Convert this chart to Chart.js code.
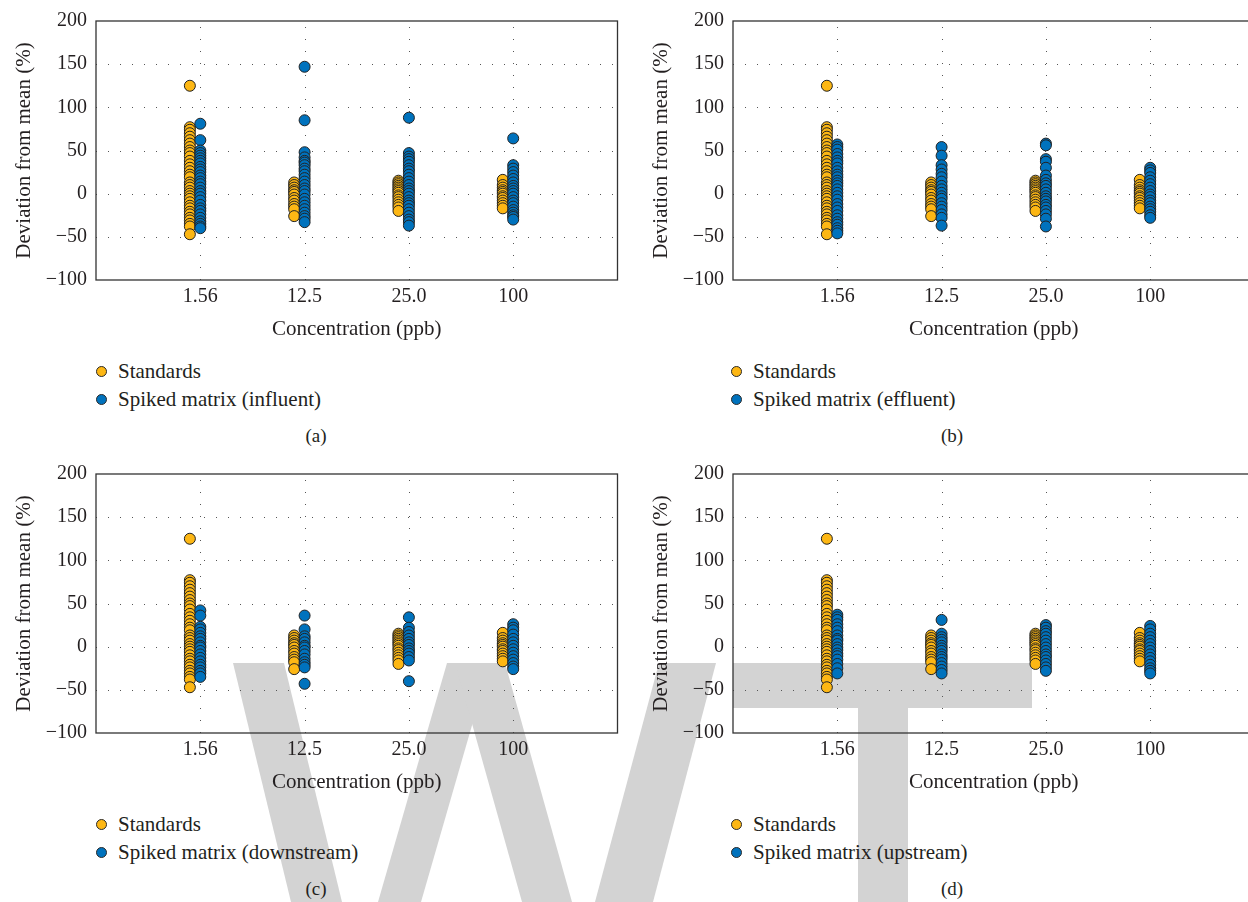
<!DOCTYPE html>
<html>
<head>
<meta charset="utf-8">
<script src="https://cdn.jsdelivr.net/npm/chart.js@4.4.1/dist/chart.umd.min.js"></script>
<style>
  html, body { margin: 0; padding: 0; background: #fff; }
  body { width: 1248px; height: 902px; overflow: hidden; position: relative; font-family: "Liberation Serif", serif; color: #231f20; }
  .wm { position: absolute; left: 0; top: 0; z-index: 0; }
  .panel { position: absolute; width: 624px; height: 350px; z-index: 1; }
  .legend { position: absolute; z-index: 1; font-size: 21px; line-height: 28px; }
  .legend div { white-space: nowrap; }
  .dot { display: inline-block; width: 9px; height: 9px; border: 1px solid #2a2a2a; border-radius: 50%; margin-right: 11px; vertical-align: middle; position: relative; top: -2px; }
  .cap { position: absolute; z-index: 1; font-size: 19px; transform: translate(-50%, -50%); }
</style>
</head>
<body>
<svg class="wm" width="1248" height="902">
  <g fill="#d3d3d3">
    <polygon points="233,663 284,663 342,902 291,902"/>
    <polygon points="447,663 490,663 421,902 378,902"/>
    <polygon points="455,663 505,663 572,902 522,902"/>
    <polygon points="659,663 716,663 653,902 595,902"/>
    <rect x="733" y="663" width="299" height="45"/>
    <rect x="858" y="708" width="50" height="194"/>
  </g>
</svg>

<div class="panel" style="left:0;top:0"><canvas id="chart-a" width="624" height="350"></canvas></div>
<div class="panel" style="left:637px;top:0"><canvas id="chart-b" width="624" height="350"></canvas></div>
<div class="panel" style="left:0;top:453px"><canvas id="chart-c" width="624" height="350"></canvas></div>
<div class="panel" style="left:637px;top:453px"><canvas id="chart-d" width="624" height="350"></canvas></div>

<div class="legend" style="left:96px;top:357px">
  <div><span class="dot" style="background:#FDB714"></span>Standards</div>
  <div><span class="dot" style="background:#0072BD"></span>Spiked matrix (influent)</div>
</div>
<div class="legend" style="left:731px;top:357px">
  <div><span class="dot" style="background:#FDB714"></span>Standards</div>
  <div><span class="dot" style="background:#0072BD"></span>Spiked matrix (effluent)</div>
</div>
<div class="legend" style="left:96px;top:810px">
  <div><span class="dot" style="background:#FDB714"></span>Standards</div>
  <div><span class="dot" style="background:#0072BD"></span>Spiked matrix (downstream)</div>
</div>
<div class="legend" style="left:731px;top:810px">
  <div><span class="dot" style="background:#FDB714"></span>Standards</div>
  <div><span class="dot" style="background:#0072BD"></span>Spiked matrix (upstream)</div>
</div>

<div class="cap" style="left:316px;top:436px">(a)</div>
<div class="cap" style="left:952px;top:436px">(b)</div>
<div class="cap" style="left:316px;top:889px">(c)</div>
<div class="cap" style="left:952px;top:889px">(d)</div>

<script>
const categories = ['1.56', '12.5', '25.0', '100'];
const yTicks = [-100, -50, 0, 50, 100, 150, 200];

// standards: same runs in all four panels
const std156 = [125, 77, 74, 70, 66, 62, 58, 54, 50, 47, 43, 38, 34, 30, 26, 22, 19, 13, 10, 7, 3, 0, -3, -6, -10, -14, -17, -21, -24, -28, -31, -35, -38, -47];
const std125 = [13, 10, 7, 4, 2, -1, -5, -8, -12, -15, -18, -26];
const std250 = [15, 13, 11, 9, 7, 5, 3, 1, -2, -4, -7, -10, -13, -16, -20];
const std100 = [16, 10, 7, 4, 2, 0, -3, -5, -8, -11, -14, -17];

// spiked matrix (influent)
const inf156 = [81, 62, 50, 47, 44, 41, 38, 35, 31, 28, 25, 21, 18, 14, 11, 7, 3, 0, -4, -8, -13, -17, -20, -24, -28, -32, -35, -38, -40];
const inf125 = [147, 85, 48, 42, 38, 36, 33, 29, 26, 22, 18, 14, 10, 6, 3, -1, -6, -10, -14, -18, -22, -26, -29, -33];
const inf250 = [88, 47, 43, 40, 37, 33, 29, 26, 22, 18, 14, 10, 6, 3, 0, -4, -8, -11, -14, -18, -22, -26, -30, -33, -37];
const inf100 = [64, 33, 29, 25, 21, 17, 13, 9, 6, 3, 0, -4, -8, -11, -15, -19, -22, -25, -27, -30];

// spiked matrix (effluent)
const eff156 = [57, 54, 51, 46, 42, 38, 35, 30, 26, 22, 19, 15, 12, 9, 5, 1, -3, -7, -12, -16, -20, -25, -29, -33, -36, -40, -43, -46];
const eff125 = [54, 44, 33, 28, 23, 19, 14, 9, 5, 1, -3, -6, -11, -15, -19, -24, -28, -37];
const eff250 = [58, 56, 40, 37, 30, 21, 16, 12, 9, 5, 1, -3, -6, -9, -13, -16, -20, -24, -29, -38];
const eff100 = [30, 27, 24, 19, 15, 11, 7, 3, -1, -4, -8, -11, -15, -18, -21, -25, -28];

// spiked matrix (downstream)
const dn156 = [42, 36, 23, 20, 16, 12, 9, 5, 1, -1, -5, -9, -13, -17, -21, -24, -28, -31, -35];
const dn125 = [36, 20, 12, 9, 5, 1, -1, -5, -9, -14, -18, -21, -24, -43];
const dn250 = [34, 22, 17, 13, 9, 5, 2, -2, -5, -8, -12, -16, -40];
const dn100 = [26, 22, 19, 14, 9, 5, 1, -3, -7, -11, -15, -19, -23, -26];

// spiked matrix (upstream)
const up156 = [37, 34, 31, 26, 22, 18, 13, 9, 7, 3, -1, -4, -8, -11, -15, -20, -25, -31];
const up125 = [31, 15, 11, 8, 5, 1, -2, -5, -9, -12, -15, -19, -23, -27, -31];
const up250 = [25, 22, 18, 15, 11, 7, 3, -1, -5, -9, -12, -16, -20, -24, -28];
const up100 = [24, 20, 15, 11, 7, 3, -1, -5, -9, -13, -17, -21, -25, -28, -31];

const standards = [std156, std125, std250, std100];
const panels = [
  { id: 'chart-a', spiked: [inf156, inf125, inf250, inf100] },
  { id: 'chart-b', spiked: [eff156, eff125, eff250, eff100] },
  { id: 'chart-c', spiked: [dn156, dn125, dn250, dn100] },
  { id: 'chart-d', spiked: [up156, up125, up250, up100] }
];

const ORANGE = '#FDB714';
const BLUE = '#0072BD';
const TEXT = '#231f20';
const FONT = 'Liberation Serif';

function toPoints(groups, offset) {
  const pts = [];
  groups.forEach((vals, i) => vals.forEach(v => pts.push({ x: i + 1 + offset, y: v })));
  return pts;
}

function fmtTick(v) {
  return v < 0 ? '\u2212' + Math.abs(v) : String(v);
}

// dotted grid + plot box
const frame = {
  id: 'frame',
  beforeDatasetsDraw(chart) {
    const { ctx, chartArea: a, scales: { x, y } } = chart;
    ctx.save();
    ctx.strokeStyle = '#555';
    ctx.lineWidth = 1;
    ctx.setLineDash([1, 11]);
    yTicks.slice(1, -1).forEach(v => {
      const py = Math.round(y.getPixelForValue(v)) + 0.5;
      ctx.beginPath(); ctx.moveTo(a.left, py); ctx.lineTo(a.right, py); ctx.stroke();
    });
    categories.forEach((c, i) => {
      const px = Math.round(x.getPixelForValue(i + 1)) + 0.5;
      ctx.beginPath(); ctx.moveTo(px, a.top + 6); ctx.lineTo(px, a.bottom); ctx.stroke();
    });
    ctx.setLineDash([]);
    ctx.strokeStyle = '#333';
    ctx.lineWidth = 1.3;
    ctx.strokeRect(a.left, a.top, a.right - a.left, a.bottom - a.top);
    ctx.restore();
  }
};

panels.forEach(p => {
  new Chart(document.getElementById(p.id), {
    type: 'scatter',
    data: {
      datasets: [
        {
          label: 'Spiked matrix',
          data: toPoints(p.spiked, 0),
          backgroundColor: BLUE,
          borderColor: '#222',
          borderWidth: 1,
          pointRadius: 5.5
        },
        {
          label: 'Standards',
          data: toPoints(standards, -0.1),
          backgroundColor: ORANGE,
          borderColor: '#222',
          borderWidth: 1,
          pointRadius: 5.5
        }
      ]
    },
    options: {
      responsive: false,
      animation: false,
      layout: { padding: { top: 19, right: 3, left: 0, bottom: 0 } },
      plugins: { legend: { display: false }, tooltip: { enabled: false } },
      scales: {
        x: {
          type: 'linear', min: 0, max: 5,
          afterBuildTicks: s => { s.ticks = categories.map((c, i) => ({ value: i + 1 })); },
          afterFit: s => { s.height = 70; },
          grid: { display: false, drawTicks: false },
          border: { display: false },
          ticks: {
            callback: v => categories[v - 1],
            font: { family: FONT, size: 20 }, color: TEXT,
            padding: 5, maxRotation: 0, autoSkip: false
          },
          title: {
            display: true, text: 'Concentration (ppb)', color: TEXT,
            font: { family: FONT, size: 21, lineHeight: 1 },
            padding: { top: 0, bottom: 10 }
          }
        },
        y: {
          min: -100, max: 200,
          afterBuildTicks: s => { s.ticks = yTicks.map(v => ({ value: v })); },
          afterFit: s => { s.width = 96; },
          grid: { display: false, drawTicks: false },
          border: { display: false },
          ticks: {
            callback: fmtTick,
            font: { family: FONT, size: 20 }, color: TEXT,
            padding: 9
          },
          title: {
            display: true, text: 'Deviation from mean (%)', color: TEXT,
            font: { family: FONT, size: 21, lineHeight: 1 },
            padding: { top: 14, bottom: 0 }
          }
        }
      }
    },
    plugins: [frame]
  });
});
</script>
</body>
</html>
